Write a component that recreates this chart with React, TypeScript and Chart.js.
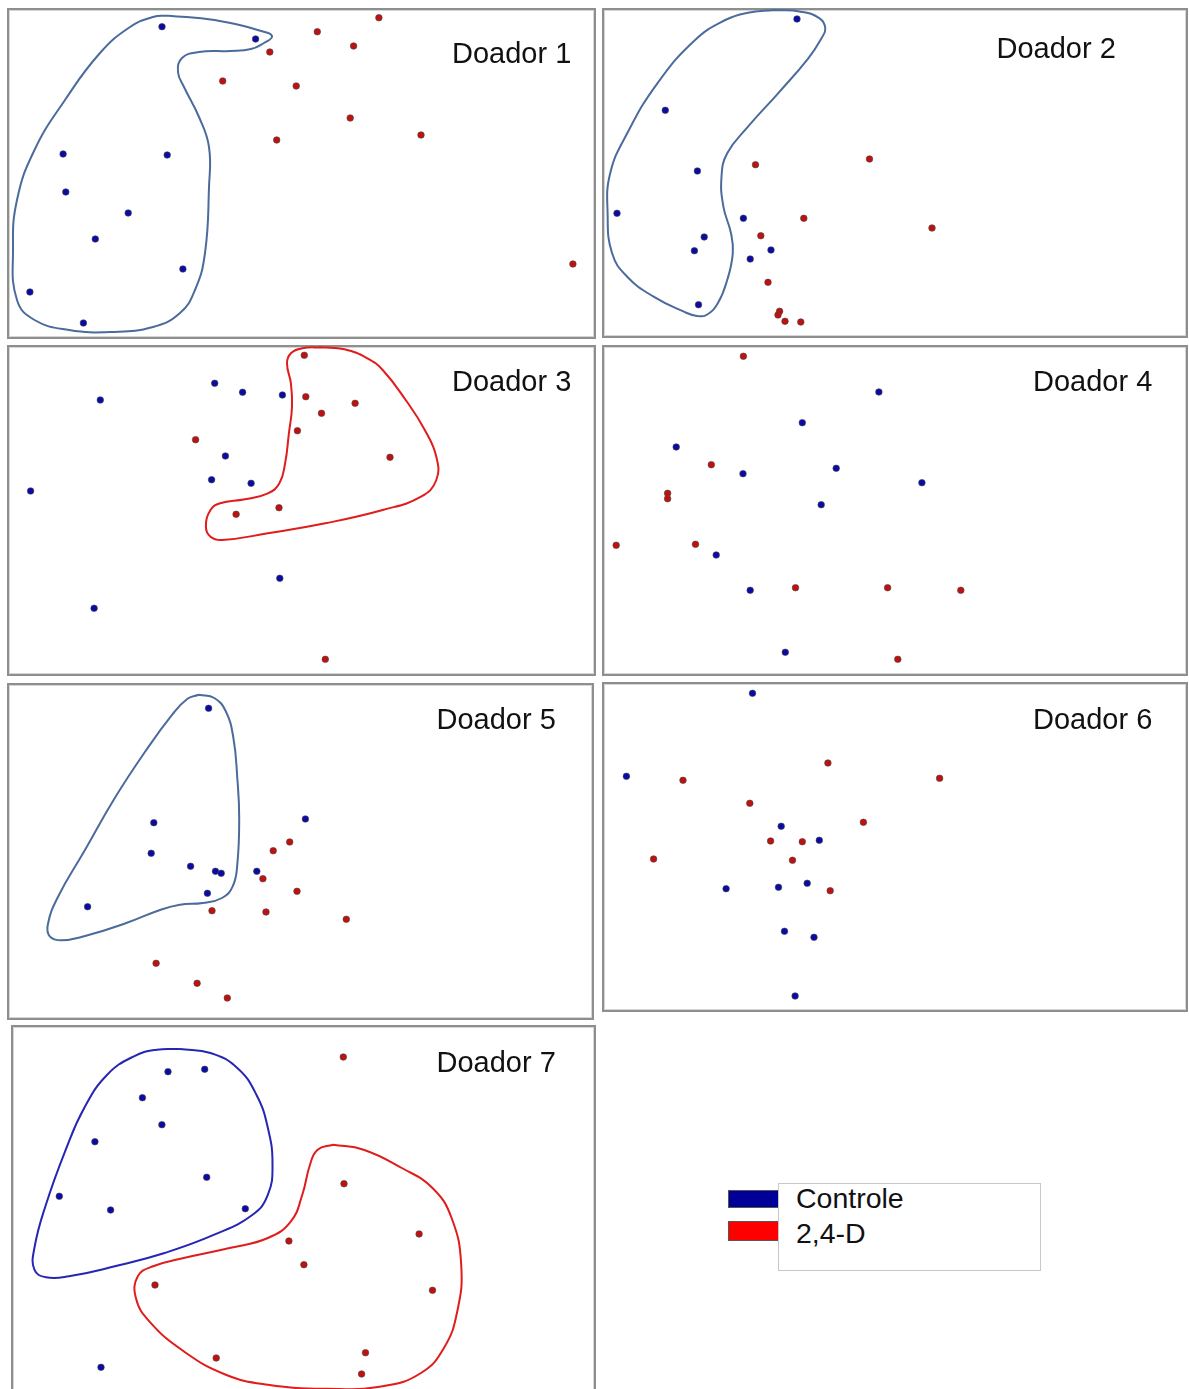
import React, { useEffect, useRef } from "react";
import { Chart, registerables } from "chart.js";

Chart.register(...registerables);

type XY = [number, number];

// ---- Doador 1 ----
const doador1Controle: XY[] = [[162, 26.7], [255.6, 39], [63.1, 154], [167.2, 155], [65.8, 192], [128.2, 213], [95.3, 239], [182.9, 269], [29.9, 292], [83.4, 323]];
const doador1Tratado: XY[] = [[378.9, 17.7], [317.3, 31.7], [353.6, 46], [269.8, 52], [222.7, 81], [296.2, 86], [350.2, 118], [276.7, 140], [421, 135], [572.9, 264]];
const doador1GrupoControle: XY[] = [[168.6, 15.7], [214.6, 20], [268, 33], [272, 37], [264, 43], [251, 49], [230, 51], [199, 52], [182, 58], [178, 72], [184, 87], [199, 117], [209, 147], [209, 187], [205, 253], [195, 290], [180, 313], [153, 327], [111, 332], [69, 330], [34.5, 320], [17, 300], [13, 250], [17, 200], [34.5, 150], [65, 100], [100, 53], [130, 27], [153, 17]];

// ---- Doador 2 ----
const doador2Controle: XY[] = [[797, 19], [665.3, 110.3], [697.4, 171], [617, 213.3], [743.4, 218.3], [704.2, 237], [694.4, 250.7], [771, 250], [750.2, 259], [698.5, 304.7]];
const doador2Tratado: XY[] = [[869.5, 159], [755.5, 164.7], [803.8, 218.3], [932, 228], [760.8, 235.7], [768, 282.3], [779.6, 311.3], [778, 315], [785, 321.3], [800.8, 322]];
const doador2GrupoControle: XY[] = [[774.4, 10], [800.8, 11.7], [819.6, 18.3], [825.3, 28.3], [821.5, 38.3], [808.3, 58.3], [778.1, 93.3], [748, 126.7], [727.2, 153.3], [721.5, 176.7], [723.4, 206.7], [731, 233.3], [732.8, 253.3], [727.2, 280], [717.8, 303.3], [706.4, 315], [697, 316], [683.8, 311.7], [653.6, 296.7], [627.2, 276.7], [612.1, 253.3], [607.6, 213.3], [610.2, 173.3], [627.2, 133.3], [657.4, 83.3], [695.1, 40], [725.3, 20], [748, 12.7]];

// ---- Doador 3 ----
const doador3Controle: XY[] = [[214.7, 383.3], [242.6, 392.3], [282.4, 395], [100.3, 400], [225.4, 456], [211.6, 479.7], [251.1, 483.3], [30.6, 491], [279.8, 578.3], [94.1, 608.3]];
const doador3Tratado: XY[] = [[304.3, 355.3], [305.8, 396.7], [355.1, 403.3], [321.5, 413.3], [297.4, 430.7], [195.6, 439.7], [390, 457.3], [279, 507.7], [236.1, 514.3], [325.3, 659.3]];
const doador3GrupoTratado: XY[] = [[321.5, 347.3], [344.4, 349.3], [367.4, 358.3], [382.7, 370], [405.7, 400], [424.8, 430], [436.3, 456.7], [436.3, 480], [421, 496.7], [382.7, 510], [325.3, 523.3], [267.9, 533.3], [222, 540], [210.5, 536.7], [205.9, 526.7], [210.5, 510], [220.1, 503.3], [244.9, 499.3], [267.9, 493.3], [279.4, 483.3], [285.1, 463.3], [288.9, 433.3], [292, 406.7], [290.9, 383.3], [287, 363.3], [290.9, 353.3], [302.3, 348.3]];

// ---- Doador 4 ----
const doador4Controle: XY[] = [[878.9, 392], [802.3, 422.7], [676.2, 447], [743, 473.7], [836.2, 468.3], [921.9, 482.7], [821.2, 504.7], [716.2, 555], [750.2, 590.3], [785.3, 652.3]];
const doador4Tratado: XY[] = [[743.4, 356.3], [711.3, 464.7], [667.6, 493.3], [667.6, 498.7], [616.2, 545.3], [695.5, 544.3], [795.5, 587.7], [887.6, 587.7], [960.8, 590.3], [897.8, 659.3]];

// ---- Doador 5 ----
const doador5Controle: XY[] = [[208.6, 708.3], [153.8, 822.7], [151.2, 853.3], [305.4, 819], [190.6, 866.3], [215.5, 871.3], [221.2, 873.3], [256.8, 871.3], [207.4, 893.3], [87.6, 906.7]];
const doador5Tratado: XY[] = [[289.7, 842], [273.2, 850.7], [262.9, 878.7], [297, 891.3], [212, 910.7], [266, 912], [346.3, 919.3], [156.1, 963.3], [197.1, 983.3], [227.3, 998]];
const doador5GrupoControle: XY[] = [[199, 694.7], [214.3, 698], [225.8, 711.3], [233.4, 738], [237.3, 778], [239.2, 818], [237.3, 864.7], [232.7, 886.3], [222, 898], [202.8, 903], [179.9, 904.7], [160.7, 909.7], [126.3, 923], [84.2, 936.3], [61.2, 940.3], [49.8, 936.3], [47.8, 924.7], [57.4, 898], [84.2, 851.3], [114.8, 798], [145.4, 751.3], [172.2, 714.7], [187.5, 698.7]];

// ---- Doador 6 ----
const doador6Controle: XY[] = [[752.5, 693.3], [626.4, 776.3], [781.2, 826.3], [819.3, 840.3], [726.1, 888.7], [778.5, 887.3], [807.2, 883.3], [784.5, 931.3], [814, 937.3], [795.1, 996]];
const doador6Tratado: XY[] = [[827.9, 763], [683, 780.3], [939.6, 778.3], [749.8, 803.3], [863.4, 822.3], [770.6, 841], [802.3, 841.7], [653.6, 859], [792.5, 860.3], [830.2, 890.7]];

// ---- Doador 7 ----
const doador7Controle: XY[] = [[168, 1071.7], [204.7, 1069.3], [142.4, 1097.7], [161.9, 1124.7], [94.9, 1141.7], [206.7, 1177.3], [59.3, 1196.3], [110.6, 1210], [245.3, 1208.7], [101, 1367.3]];
const doador7Tratado: XY[] = [[343.3, 1057], [344, 1183.7], [419.1, 1234], [288.9, 1241], [303.9, 1264.7], [155, 1285], [432.5, 1290.3], [365.5, 1352.7], [216.2, 1358], [361.6, 1374]];
const doador7GrupoControle: XY[] = [[179.9, 1049], [210.5, 1053], [237.3, 1068], [256.4, 1094.7], [267.9, 1128], [272.5, 1164.7], [267.9, 1194.7], [252.6, 1214.7], [214.3, 1234.7], [164.6, 1253], [114.8, 1266.3], [68.9, 1276.3], [45.9, 1277.3], [34.4, 1269.7], [34.4, 1248], [45.9, 1204.7], [65.1, 1151.3], [84.2, 1108], [107.2, 1074.7], [133.9, 1056.3], [156.9, 1049.7]];
const doador7GrupoTratado: XY[] = [[333, 1144.7], [363.6, 1149.7], [401.8, 1168], [432.5, 1188], [451.6, 1218], [461.2, 1264.7], [457.3, 1311.3], [443.9, 1348], [421, 1373], [382.7, 1386.3], [325.3, 1388.7], [267.9, 1384.7], [225.8, 1374.7], [183.7, 1351.3], [149.3, 1321.3], [135.9, 1298], [137.8, 1276.3], [153.1, 1266.3], [183.7, 1258], [229.6, 1248], [267.9, 1238], [290.9, 1221.3], [302.3, 1194.7], [310, 1164.7], [317.6, 1149.7]];

const panelTitles = ["Doador 1", "Doador 2", "Doador 3", "Doador 4", "Doador 5", "Doador 6", "Doador 7"];
const seriesNames = ["Controle", "2,4-D"];

// ---- styles ----
const DOT_BLUE = "#0a0aa6";
const DOT_RED = "#c01010";
const HULL_STEEL = "#4a6b9b";
const HULL_RED = "#e01c1c";
const HULL_BLUE = "#2626b4";

type Hull = { pts: XY[]; color: string };
type PanelDef = {
  title: string;
  box: [number, number, number, number];
  label: [number, number];
  controle: XY[];
  tratado: XY[];
  hulls: Hull[];
};

const panels: PanelDef[] = [
  { title: panelTitles[0], box: [7, 8, 596, 339], label: [452, 63], controle: doador1Controle, tratado: doador1Tratado, hulls: [{ pts: doador1GrupoControle, color: HULL_STEEL }] },
  { title: panelTitles[1], box: [602, 8, 1188, 338], label: [996.5, 58], controle: doador2Controle, tratado: doador2Tratado, hulls: [{ pts: doador2GrupoControle, color: HULL_STEEL }] },
  { title: panelTitles[2], box: [7, 345, 596, 676], label: [452, 390.5], controle: doador3Controle, tratado: doador3Tratado, hulls: [{ pts: doador3GrupoTratado, color: HULL_RED }] },
  { title: panelTitles[3], box: [602, 345, 1188, 676], label: [1033, 391], controle: doador4Controle, tratado: doador4Tratado, hulls: [] },
  { title: panelTitles[4], box: [7, 683, 594, 1020], label: [436.5, 728.7], controle: doador5Controle, tratado: doador5Tratado, hulls: [{ pts: doador5GrupoControle, color: HULL_STEEL }] },
  { title: panelTitles[5], box: [602, 682, 1188, 1012], label: [1033, 728.7], controle: doador6Controle, tratado: doador6Tratado, hulls: [] },
  { title: panelTitles[6], box: [11, 1025, 596, 1400], label: [436.5, 1072], controle: doador7Controle, tratado: doador7Tratado, hulls: [{ pts: doador7GrupoControle, color: HULL_BLUE }, { pts: doador7GrupoTratado, color: HULL_RED }] },
];

const toXY = (arr: XY[]) => arr.map(([x, y]) => ({ x, y }));

const panelLabelPlugin = {
  id: "panelLabel",
  afterDatasetsDraw(chart: any, _args: any, opts: any) {
    if (!opts || !opts.text) return;
    const { ctx, scales } = chart;
    ctx.save();
    ctx.font = '29px "Liberation Sans", Arial, sans-serif';
    ctx.fillStyle = "#111111";
    ctx.textAlign = "left";
    ctx.textBaseline = "alphabetic";
    ctx.fillText(opts.text, scales.x.getPixelForValue(opts.x), scales.y.getPixelForValue(opts.y));
    ctx.restore();
  },
};

function Panel({ p }: { p: PanelDef }) {
  const ref = useRef<HTMLCanvasElement | null>(null);
  const [x0, y0, x1, y1] = p.box;
  const W = x1 - x0;
  const H = y1 - y0;
  useEffect(() => {
    if (!ref.current) return;
    const pointStyle = (color: string) => ({
      backgroundColor: color,
      borderColor: "rgba(70,70,70,0.75)",
      borderWidth: 0.8,
      pointRadius: 3.3,
      showLine: false,
      clip: false as any,
    });
    const chart = new Chart(ref.current, {
      type: "scatter",
      data: {
        datasets: [
          { label: seriesNames[0], data: toXY(p.controle), ...pointStyle(DOT_BLUE) },
          { label: seriesNames[1], data: toXY(p.tratado), ...pointStyle(DOT_RED) },
          ...p.hulls.map((h) => ({
            label: "grupo",
            data: toXY([...h.pts, h.pts[0]]),
            showLine: true,
            tension: 0.45,
            borderColor: h.color,
            borderWidth: 2,
            pointRadius: 0,
            fill: false,
            clip: false as any,
          })),
        ],
      } as any,
      options: {
        animation: false,
        responsive: false,
        devicePixelRatio: 1,
        events: [],
        layout: { padding: 0, autoPadding: false },
        scales: {
          x: { type: "linear", min: x0, max: x1, display: false },
          y: { type: "linear", min: y0, max: y1, reverse: true, display: false },
        },
        plugins: {
          legend: { display: false },
          tooltip: { enabled: false },
          panelLabel: { text: p.title, x: p.label[0], y: p.label[1] },
        } as any,
      } as any,
      plugins: [panelLabelPlugin as any],
    });
    return () => chart.destroy();
  }, []);
  return (
    <>
      <div
        style={{
          position: "absolute",
          left: x0,
          top: y0,
          width: W,
          height: H,
          boxSizing: "border-box",
          border: "2px solid #8e8e8e",
          boxShadow: "inset 0 0 0 1px #d6d6d6",
          background: "#ffffff",
        }}
      />
      <canvas
        ref={ref}
        width={W}
        height={H}
        style={{ position: "absolute", left: x0, top: y0, width: W, height: H }}
      />
    </>
  );
}

export default function App() {
  return (
    <div
      style={{
        position: "absolute",
        left: 0,
        top: 0,
        width: 1189,
        height: 1389,
        overflow: "hidden",
        background: "#ffffff",
        fontFamily: '"Liberation Sans", Arial, sans-serif',
      }}
    >
      {panels.map((p) => (
        <Panel key={p.title} p={p} />
      ))}
      {/* legend */}
      <div style={{ position: "absolute", left: 728, top: 1190, width: 52, height: 18, boxSizing: "border-box", background: "#000099", border: "1px solid #555" }} />
      <div style={{ position: "absolute", left: 728, top: 1221, width: 52, height: 20, boxSizing: "border-box", background: "#ff0000", border: "1px solid #555" }} />
      <div
        style={{
          position: "absolute",
          left: 778,
          top: 1183,
          width: 263,
          height: 88,
          boxSizing: "border-box",
          border: "1px solid #c8c8c8",
          background: "#ffffff",
        }}
      />
      <div style={{ position: "absolute", left: 796, top: 1184.3, fontSize: 28.5, lineHeight: "28px", color: "#111", whiteSpace: "nowrap" }}>{seriesNames[0]}</div>
      <div style={{ position: "absolute", left: 796, top: 1218.7, fontSize: 28.5, lineHeight: "28px", color: "#111", whiteSpace: "nowrap" }}>{seriesNames[1]}</div>
    </div>
  );
}
